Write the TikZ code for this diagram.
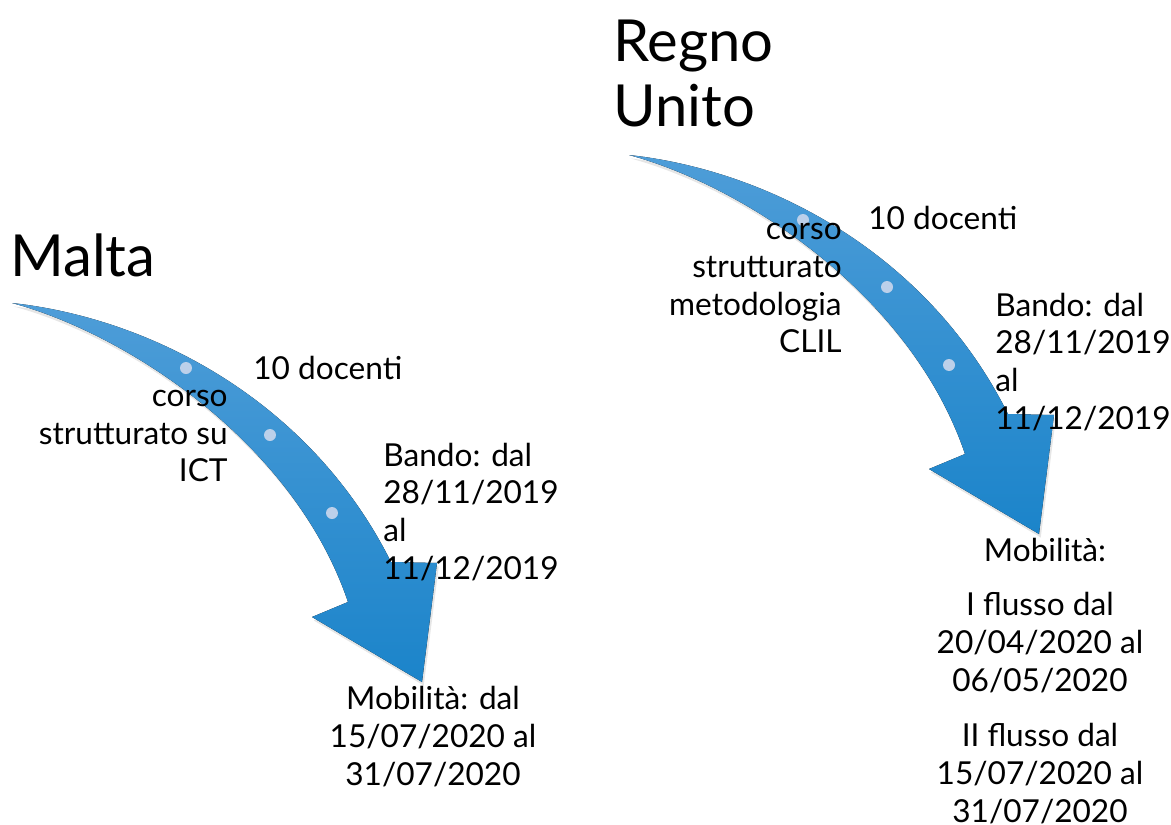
\documentclass[tikz,border=0pt]{standalone}
\usepackage{fontspec}
\setmainfont{Lato}
\usetikzlibrary{shadows}
\definecolor{arrowtop}{HTML}{4E9DD8}
\definecolor{arrowmid}{HTML}{2C92D7}
\definecolor{arrowbottom}{HTML}{1B84CA}
\definecolor{dotblue}{HTML}{BCD0EA}
\tikzstyle{title} = [inner sep=0pt, font=\fontsize{33}{37}\selectfont, align=left]
\tikzstyle{item} = [inner sep=0pt, font=\fontsize{18}{21.6}\selectfont]
\tikzstyle{band} = [top color=arrowtop, middle color=arrowmid, bottom color=arrowbottom, drop shadow={opacity=0.2, shadow xshift=1pt, shadow yshift=-2pt}]
\tikzstyle{stop} = [circle, fill=dotblue, inner sep=0pt, minimum size=0.24cm]
\newcommand{\bandarrow}[1]{%
  \fill[band, shift={#1}] (12,303) .. controls (150,318) and (310,400) .. (391,562)
    -- (437,563) -- (422,682) -- (312,617) -- (348,602)
    .. controls (295,445) and (130,335) .. (12,303) -- cycle;
}

\begin{document}
\begin{tikzpicture}[x=0.02cm, y=-0.02cm]
\useasboundingbox (0,0) rectangle (1171,825);

% the two curved arrows
\bandarrow{(0,0)}
\bandarrow{(617,-148)}

\node (m1) [stop] at (186,368) {};
\node (m2) [stop] at (270,435) {};
\node (m3) [stop] at (332,513) {};
\node (r1) [stop] at (803,220) {};
\node (r2) [stop] at (887,287) {};
\node (r3) [stop] at (949,365) {};

% Malta
\node (malta) [title, anchor=west] at (10,255) {Malta};
\node (mdocenti) [item, anchor=west] at (253,368) {10 docenti};
\node (mcorso) [item, anchor=east, align=right] at (228,436) {corso\\strutturato su\\ICT};
\node (mbando) [item, anchor=west, align=left] at (383,512) {Bando: dal\\28/11/2019\\al\\11/12/2019};
\node (mmob) [item, align=center] at (433,737) {Mobilità: dal\\15/07/2020 al\\31/07/2020};

% Regno Unito
\node (regno) [title, anchor=west] at (613,73) {Regno\\Unito};
\node (rdocenti) [item, anchor=west] at (868,218) {10 docenti};
\node (rcorso) [item, anchor=east, align=right] at (842,288) {corso\\strutturato\\metodologia\\CLIL};
\node (rbando) [item, anchor=west, align=left] at (995,362) {Bando: dal\\28/11/2019\\al\\11/12/2019};
\node (rmob) [item] at (1045,550) {Mobilità:};
\node (rflusso1) [item, align=center] at (1040,643) {I flusso dal\\20/04/2020 al\\06/05/2020};
\node (rflusso2) [item, align=center] at (1040,774) {II flusso dal\\15/07/2020 al\\31/07/2020};
\end{tikzpicture}
\end{document}
